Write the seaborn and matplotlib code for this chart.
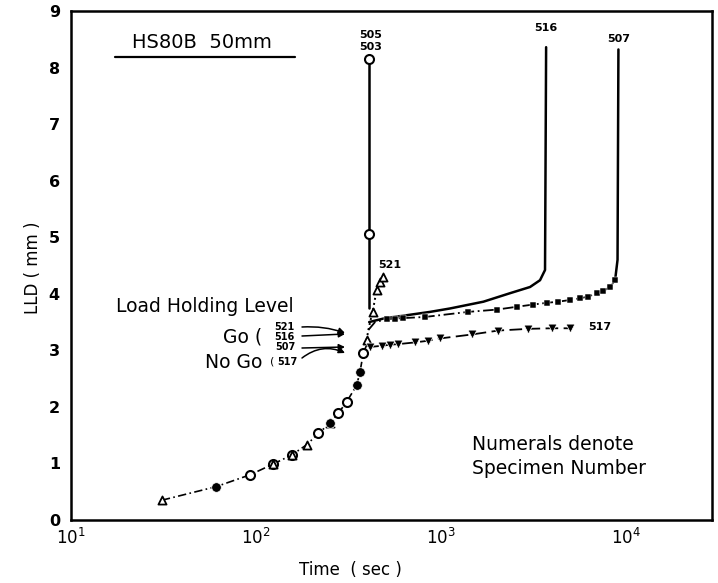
import numpy as np
import matplotlib
matplotlib.use("Agg")
import matplotlib.pyplot as plt
import matplotlib.ticker as mticker
import seaborn as sns

sns.set_style("white")
plt.rcParams['font.family'] = ['DejaVu Sans']
plt.rcParams['text.color'] = 'black'
plt.rcParams['axes.labelcolor'] = 'black'
plt.rcParams['xtick.color'] = 'black'
plt.rcParams['ytick.color'] = 'black'

# early common part of all specimens (time in sec, LLD in mm)
early_t = [31, 61, 93, 124, 156, 188, 217, 251, 279, 309, 350, 365, 380, 396]
early_v = [0.35, 0.59, 0.80, 0.99, 1.15, 1.33, 1.53, 1.71, 1.89, 2.09, 2.38, 2.62, 2.95, 3.09]

circ_t = [93, 124, 156, 217, 279, 309, 380]
circ_v = [0.80, 0.99, 1.15, 1.53, 1.89, 2.09, 2.95]
tri_t = [31, 124, 156, 188, 251, 396]
tri_v = [0.35, 0.99, 1.15, 1.33, 1.71, 3.18]
blob_t = [61, 251, 350, 365]
blob_v = [0.59, 1.71, 2.38, 2.62]

# specimen 521 (open triangles, dotted)
s521_t = [396, 405, 415, 427, 438, 449, 468, 488]
s521_v = [3.18, 3.36, 3.52, 3.68, 3.88, 4.07, 4.21, 4.30]
s521_mt = [427, 449, 468, 488]
s521_mv = [3.68, 4.07, 4.21, 4.30]

# specimens 505 / 503 (open circles, vertical rise)
s505_t = [409, 409]
s505_v = [3.75, 8.15]
s505_mt = [409, 409]
s505_mv = [5.05, 8.15]

# specimen 516 (solid line)
s516_t = [409, 500, 650, 873, 1118, 1695, 2360, 3030, 3430, 3650, 3700]
s516_v = [3.50, 3.57, 3.62, 3.68, 3.74, 3.86, 4.01, 4.12, 4.24, 4.42, 8.36]

# specimen 507 (filled squares, dash-dot)
s507_t = [405, 440, 509, 564, 625, 820, 1405, 2000, 2565, 3155, 3727, 4305,
          4977, 5636, 6250, 6950, 7540, 8200, 8730]
s507_v = [3.36, 3.50, 3.55, 3.56, 3.57, 3.59, 3.68, 3.72, 3.77, 3.81, 3.84, 3.86,
          3.89, 3.92, 3.95, 4.01, 4.05, 4.12, 4.24]
s507_rise_t = [8730, 9000, 9100]
s507_rise_v = [4.24, 4.60, 8.32]

# specimen 517 (filled down triangles, dashed)
s517_t = [396, 413, 478, 530, 588, 723, 854, 988, 1466, 2042, 2965, 3966, 4977]
s517_v = [3.09, 3.06, 3.08, 3.10, 3.11, 3.14, 3.17, 3.21, 3.28, 3.35, 3.38, 3.39, 3.39]

fig = plt.figure(figsize=(7.18, 5.83), dpi=100)
ax = fig.add_axes([71 / 718, 1 - 520 / 583, 641 / 718, 509 / 583])
ax.set_xscale('log')
ax.set_xlim(10, 10 ** (1 + 641 / 185))
ax.set_ylim(0, 9)

k = dict(color='k', sort=False, estimator=None, ax=ax, legend=False)
sns.lineplot(x=early_t, y=early_v, linestyle=(0, (5, 2, 1, 2)), lw=1.2, **k)
sns.lineplot(x=s521_t, y=s521_v, linestyle=':', lw=1.4, **k)
sns.lineplot(x=s505_t, y=s505_v, linestyle='-', lw=1.8, **k)
sns.lineplot(x=s516_t, y=s516_v, linestyle='-', lw=1.8, **k)
sns.lineplot(x=s507_t, y=s507_v, linestyle=(0, (6, 2, 1, 2)), lw=1.3, **k)
sns.lineplot(x=s507_rise_t, y=s507_rise_v, linestyle='-', lw=1.8, **k)
sns.lineplot(x=s517_t, y=s517_v, linestyle=(0, (7, 3)), lw=1.3, **k)

sk = dict(ax=ax, legend=False, zorder=5)
sns.scatterplot(x=circ_t + s505_mt, y=circ_v + s505_mv, marker='o', s=42,
                facecolor='white', edgecolor='k', linewidth=1.5, **sk)
sns.scatterplot(x=tri_t + s521_mt, y=tri_v + s521_mv, marker='^', s=34,
                facecolor='white', edgecolor='k', linewidth=1.3, **sk)
sns.scatterplot(x=blob_t, y=blob_v, marker='o', s=48, color='k', **sk)
sns.scatterplot(x=s507_t[2:], y=s507_v[2:], marker='s', s=20, color='k', **sk)
sns.scatterplot(x=s517_t[1:], y=s517_v[1:], marker='v', s=40, color='k', **sk)

# ticks
ax.xaxis.set_major_locator(mticker.FixedLocator([10, 50, 100, 500, 1000, 5000, 10000]))
ax.xaxis.set_major_formatter(mticker.FixedFormatter(
    [r'$10^1$', '', r'$10^2$', '', r'$10^3$', '', r'$10^4$']))
ax.xaxis.set_minor_locator(mticker.LogLocator(base=10, subs=(2, 3, 4, 6, 7, 8, 9), numticks=20))
ax.xaxis.set_minor_formatter(mticker.NullFormatter())
ax.tick_params(axis='x', which='major', direction='in', length=11, width=1.3,
               labelsize=12, pad=6, top=False)
ax.tick_params(axis='x', which='minor', direction='in', length=6, width=1.2, top=False)
ax.set_yticks(range(10))
ax.tick_params(axis='y', direction='in', length=9, width=1.3, labelsize=11.5, pad=8, right=False)
for lab in ax.get_yticklabels():
    lab.set_fontweight('bold')
for s in ax.spines.values():
    s.set_linewidth(1.8)
    s.set_color('k')

fig.text(33 / 718, 1 - 268 / 583, 'LLD ( mm )', rotation=90, ha='center', va='center', fontsize=12)
fig.text(350 / 718, 1 - 570 / 583, 'Time  ( sec )', ha='center', va='center', fontsize=12)

ax.text((202 - 71) / 641, (520 - 43) / 509, 'HS80B  50mm', transform=ax.transAxes,
        ha='center', va='center', fontsize=14)
ax.plot([(115 - 71) / 641, (295 - 71) / 641], [(520 - 57) / 509] * 2,
        transform=ax.transAxes, color='k', lw=1.6)


def px(x, y):
    return (x - 71) / 641, (520 - y) / 509


small = dict(transform=ax.transAxes, ha='center', va='center', fontsize=8, fontweight='bold')
ax.text(*px(371, 35), '505', **small)
ax.text(*px(371, 47), '503', **small)
ax.text(*px(546, 28), '516', **small)
ax.text(*px(619, 39), '507', **small)
ax.text(*px(390, 265), '521', **small)
ax.text(*px(600, 327), '517', **small)

big = dict(transform=ax.transAxes, va='center', fontsize=13.5)
ax.text(*px(116, 307), 'Load Holding Level', ha='left', **big)
ax.text(*px(262, 337), 'Go (', ha='right', **big)
ax.text(*px(262, 362), 'No Go', ha='right', **big)
ax.text(*px(272, 362), '(', transform=ax.transAxes, ha='center', va='center', fontsize=8)
tiny = dict(transform=ax.transAxes, ha='center', va='center', fontsize=7, fontweight='bold')
ax.text(*px(284, 327), '521', **tiny)
ax.text(*px(284, 337), '516', **tiny)
ax.text(*px(285, 347), '507', **tiny)
ax.text(*px(287, 362), '517', **tiny)

arr = dict(arrowstyle='-|>', color='k', lw=1.1, mutation_scale=9, shrinkA=0, shrinkB=0)
for (x0, y0), (x1, y1), rad in [((302, 327), (345, 333), -0.1),
                                ((302, 336), (345, 334), 0.0),
                                ((302, 348), (345, 347), 0.0),
                                ((302, 358), (345, 353), -0.3)]:
    ax.annotate('', xy=px(x1, y1), xytext=px(x0, y0), xycoords='axes fraction',
                textcoords='axes fraction',
                arrowprops=dict(connectionstyle=f'arc3,rad={rad}', **arr))

ax.text(*px(472, 445), 'Numerals denote', ha='left', **big)
ax.text(*px(472, 468), 'Specimen Number', ha='left', **big)

fig.savefig('out.png', dpi=100)
